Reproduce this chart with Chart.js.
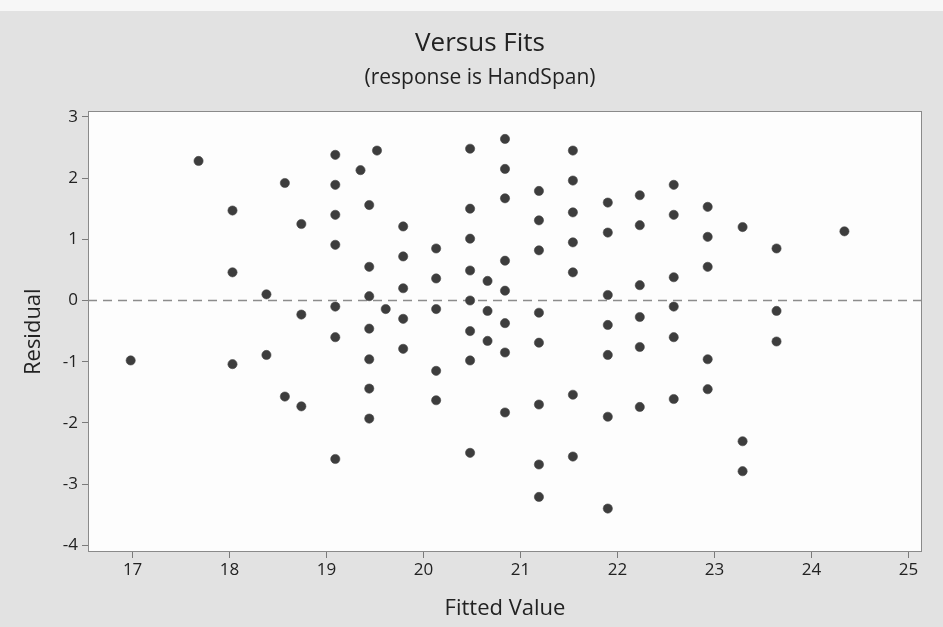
<!DOCTYPE html>
<html>
<head>
<meta charset="utf-8">
<script src="https://cdn.jsdelivr.net/npm/chart.js@4/dist/chart.umd.min.js"></script>
<style>
  html, body { margin: 0; padding: 0; background: #e2e2e2; }
  #c { display: block; }
</style>
</head>
<body>
<canvas id="c" width="943" height="627"></canvas>
<script>
// Residuals versus fitted values for the HandSpan regression
const fittedValues = [
  16.98,
  17.68,
  18.03, 18.03, 18.03,
  18.38, 18.38,
  18.57, 18.57,
  18.74, 18.74, 18.74,
  19.09, 19.09, 19.09, 19.09, 19.09, 19.09, 19.09,
  19.35,
  19.44, 19.44, 19.44, 19.44, 19.44, 19.44, 19.44,
  19.52,
  19.61,
  19.79, 19.79, 19.79, 19.79, 19.79,
  20.13, 20.13, 20.13, 20.13, 20.13,
  20.48, 20.48, 20.48, 20.48, 20.48, 20.48, 20.48, 20.48,
  20.66, 20.66, 20.66,
  20.84, 20.84, 20.84, 20.84, 20.84, 20.84, 20.84, 20.84,
  21.19, 21.19, 21.19, 21.19, 21.19, 21.19, 21.19, 21.19,
  21.54, 21.54, 21.54, 21.54, 21.54, 21.54, 21.54,
  21.90, 21.90, 21.90, 21.90, 21.90, 21.90, 21.90,
  22.23, 22.23, 22.23, 22.23, 22.23, 22.23,
  22.58, 22.58, 22.58, 22.58, 22.58, 22.58,
  22.93, 22.93, 22.93, 22.93, 22.93,
  23.29, 23.29, 23.29,
  23.64, 23.64, 23.64,
  24.34
];
const residuals = [
  -0.98,
  2.28,
  1.47, 0.46, -1.04,
  0.10, -0.89,
  1.92, -1.57,
  1.25, -0.23, -1.73,
  2.38, 1.89, 1.40, 0.91, -0.10, -0.60, -2.59,
  2.13,
  1.56, 0.55, 0.07, -0.46, -0.96, -1.44, -1.93,
  2.45,
  -0.14,
  1.21, 0.72, 0.20, -0.30, -0.79,
  0.85, 0.36, -0.14, -1.15, -1.63,
  2.48, 1.50, 1.01, 0.49, 0.00, -0.50, -0.98, -2.49,
  0.32, -0.17, -0.66,
  2.64, 2.15, 1.67, 0.65, 0.16, -0.37, -0.85, -1.83,
  1.79, 1.31, 0.82, -0.20, -0.69, -1.70, -2.68, -3.21,
  2.45, 1.96, 1.44, 0.95, 0.46, -1.54, -2.55,
  1.60, 1.11, 0.09, -0.40, -0.89, -1.90, -3.40,
  1.72, 1.23, 0.25, -0.27, -0.76, -1.74,
  1.89, 1.40, 0.38, -0.10, -0.60, -1.61,
  1.53, 1.04, 0.55, -0.96, -1.45,
  1.20, -2.30, -2.79,
  0.85, -0.17, -0.67,
  1.13
];
const xTicks = [17, 18, 19, 20, 21, 22, 23, 24, 25];
const yTicks = [-4, -3, -2, -1, 0, 1, 2, 3];
const xRange = [16.54, 25.14];
const yRange = [-4.11, 3.09];
const referenceLevel = 0;

const FONT = "'Open Sans', 'DejaVu Sans', sans-serif";
const TEXT = '#222222';

const points = fittedValues.map((x, i) => ({ x: x, y: residuals[i] }));

// Grey page, white plot panel and its frame
const panelPlugin = {
  id: 'panel',
  beforeDraw(chart) {
    const { ctx, chartArea: a, width, height } = chart;
    ctx.save();
    ctx.fillStyle = '#e2e2e2';
    ctx.fillRect(0, 0, width, height);
    ctx.fillStyle = '#f7f7f7';
    ctx.fillRect(0, 0, width, 11);
    ctx.fillStyle = '#fdfdfd';
    ctx.fillRect(a.left, a.top, a.right - a.left, a.bottom - a.top);
    ctx.restore();
  },
  afterDatasetsDraw(chart) {
    const { ctx, chartArea: a } = chart;
    ctx.save();
    ctx.strokeStyle = '#8a8a8a';
    ctx.lineWidth = 1;
    ctx.strokeRect(Math.round(a.left) + 0.5, Math.round(a.top) + 0.5,
                   Math.round(a.right - a.left) - 1, Math.round(a.bottom - a.top) - 1);
    ctx.restore();
  }
};

new Chart(document.getElementById('c'), {
  type: 'scatter',
  data: {
    datasets: [
      {
        label: 'Residual',
        data: points,
        order: 0,
        pointRadius: 4.6,
        pointHoverRadius: 4.6,
        pointBackgroundColor: '#3d3d3d',
        pointBorderColor: '#474747',
        pointBorderWidth: 0.6
      },
      {
        type: 'line',
        label: 'Zero',
        data: [{ x: xRange[0], y: referenceLevel }, { x: xRange[1], y: referenceLevel }],
        order: 1,
        borderColor: '#8c8c8c',
        borderWidth: 1.3,
        borderDash: [9, 6],
        pointRadius: 0,
        fill: false
      }
    ]
  },
  options: {
    responsive: false,
    devicePixelRatio: 1,
    animation: false,
    layout: { padding: { left: 38, right: 21, top: 0, bottom: 5 } },
    plugins: {
      legend: { display: false },
      tooltip: { enabled: false },
      title: {
        display: true,
        text: 'Versus Fits',
        color: TEXT,
        font: { family: FONT, size: 26, weight: 'normal' },
        padding: { top: 28, bottom: 0 }
      },
      subtitle: {
        display: true,
        text: '(response is HandSpan)',
        color: TEXT,
        font: { family: FONT, size: 21, weight: 'normal' },
        padding: { top: 6, bottom: 21 }
      }
    },
    scales: {
      x: {
        type: 'linear',
        min: xRange[0],
        max: xRange[1],
        afterFit(s) { s.height = 70; },
        afterBuildTicks(s) { s.ticks = xTicks.map(v => ({ value: v })); },
        border: { display: false },
        grid: { display: true, drawOnChartArea: false, drawTicks: true, tickLength: 6, color: '#7a7a7a' },
        ticks: { color: TEXT, padding: 2, maxRotation: 0, font: { family: FONT, size: 17 } },
        title: {
          display: true,
          text: 'Fitted Value',
          color: TEXT,
          font: { family: FONT, size: 22, weight: 'normal' },
          padding: { top: 10, bottom: 0 }
        }
      },
      y: {
        type: 'linear',
        min: yRange[0],
        max: yRange[1],
        afterFit(s) { s.width = 50; },
        afterBuildTicks(s) { s.ticks = yTicks.map(v => ({ value: v })); },
        border: { display: false },
        grid: { display: true, drawOnChartArea: false, drawTicks: true, tickLength: 6, color: '#7a7a7a' },
        ticks: { color: TEXT, padding: 4, font: { family: FONT, size: 17 } },
        title: {
          display: true,
          text: 'Residual',
          color: TEXT,
          font: { family: FONT, size: 22, weight: 'normal' },
          padding: { top: -17, bottom: 0 }
        }
      }
    }
  },
  plugins: [panelPlugin]
});
</script>
</body>
</html>
